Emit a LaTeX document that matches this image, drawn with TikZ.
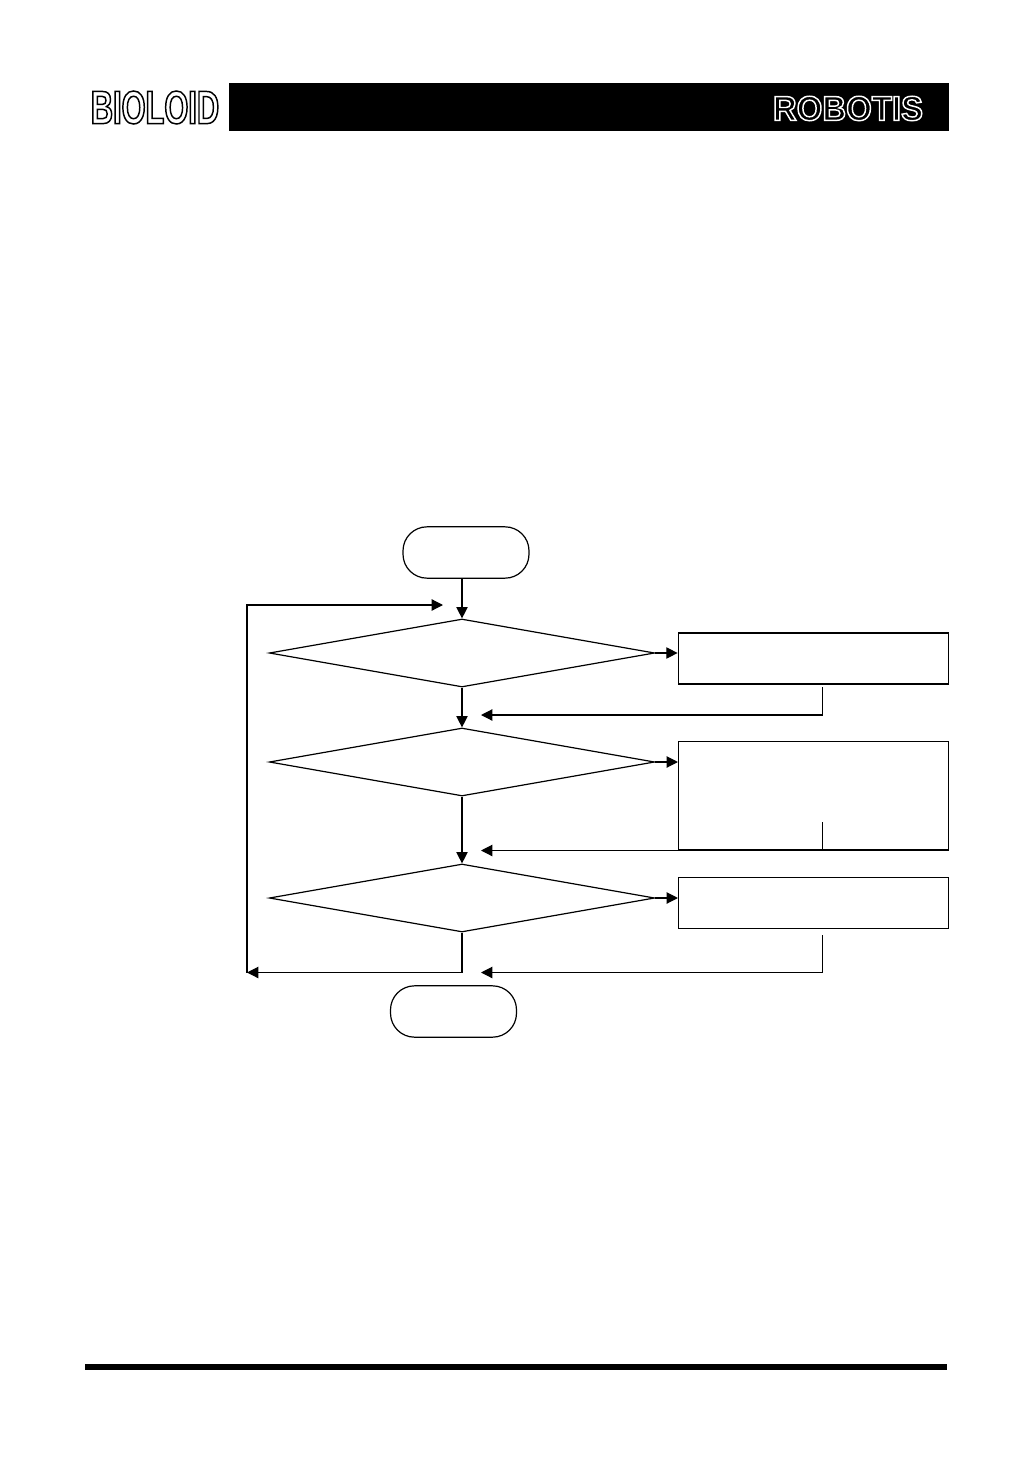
\documentclass[tikz,border=0pt]{standalone}
\usepackage{fontspec}
\usetikzlibrary{arrows.meta,positioning,shapes.geometric,calc}
\newfontfamily\bioloidfont[FakeStretch=0.66]{Liberation Sans Bold}
\newfontfamily\robotisfont[FakeStretch=0.95]{Liberation Sans}
\tikzset{
  flowbox/.style={draw=black, line width=0.8pt, minimum width=202.5pt, inner sep=0pt},
  flowdec/.style={draw=black, line width=0.9pt, diamond, minimum width=289pt, minimum height=51pt, inner sep=0pt},
  flowend/.style={draw=black, line width=0.9pt, minimum width=94.5pt, minimum height=38.5pt, rounded corners=18pt, inner sep=0pt},
  flowarrow/.style={-{Triangle[length=8.5pt,width=8.5pt]}, line width=0.9pt, draw=black},
}
\begin{document}
\begin{tikzpicture}[x=0.75pt, y=-0.75pt]
    \useasboundingbox (0,0) rectangle (1032,1458);
    % page header and footer
    \node[fill=black, minimum width=540pt, minimum height=36pt, inner sep=0pt] (bar) at (588.75,107) {};
    \node[inner sep=0pt] (bioloid) at (155,107.5) {\bioloidfont\fontsize{35}{35}\selectfont\special{pdf:code q 1 1 1 rg 0 0 0 RG 2 Tr 1.1 w}BIOLOID\special{pdf:code Q}};
    \node[inner sep=0pt] (robotis) at (848,108.5) {\robotisfont\bfseries\fontsize{26}{26}\selectfont\special{pdf:code q 0 0 0 rg 1 1 1 RG 2 Tr 1.1 w}ROBOTIS\special{pdf:code Q}};
    \node[fill=black, minimum width=646.5pt, minimum height=4pt, inner sep=0pt] (rule) at (516.25,1367) {};

    % flow chart
    \node[flowend] (start) at (466,552.5) {};
    \node[flowdec] (dec1) at (462,653) {};
    \node[flowdec] (dec2) at (462,762) {};
    \node[flowdec] (dec3) at (462,898) {};
    \node[flowend] (stop) at (453.5,1011.5) {};
    \node[flowbox, line width=1.3pt, minimum height=38.25pt] (box1) at (813.5,658.5) {};
    \node[flowbox, minimum height=81.4pt] (box2) at (813.5,795.75) {};
    \node[flowbox, minimum height=38.25pt] (box3) at (813.5,903) {};

    \coordinate (in1) at (481,715);
    \coordinate (in2) at (481,850.5);
    \coordinate (in3) at (481,972.5);
    \coordinate (back) at (247,972.5);
    \coordinate (loop) at (443,605);
    \coordinate (out1) at (822.5,687);
    \coordinate (out2) at (822.5,822);
    \coordinate (out3) at (822.5,935);

    \draw[flowarrow] (start.south -| dec1.north) -- (dec1.north);
    \draw[flowarrow] (dec1.south) -- (dec2.north);
    \draw[flowarrow] (dec2.south) -- (dec3.north);
    \draw[flowarrow] (dec1.east) -- (box1.west |- dec1.east);
    \draw[flowarrow] (dec2.east) -- (box2.west |- dec2.east);
    \draw[flowarrow] (dec3.east) -- (box3.west |- dec3.east);
    \draw[flowarrow] (out1) |- (in1);
    \draw[flowarrow] (out2) |- (in2);
    \draw[flowarrow] (out3) |- (in3);
    \draw[flowarrow] (dec3.south) |- (back);
    \draw[flowarrow] (back) |- (loop);
\end{tikzpicture}
\end{document}
